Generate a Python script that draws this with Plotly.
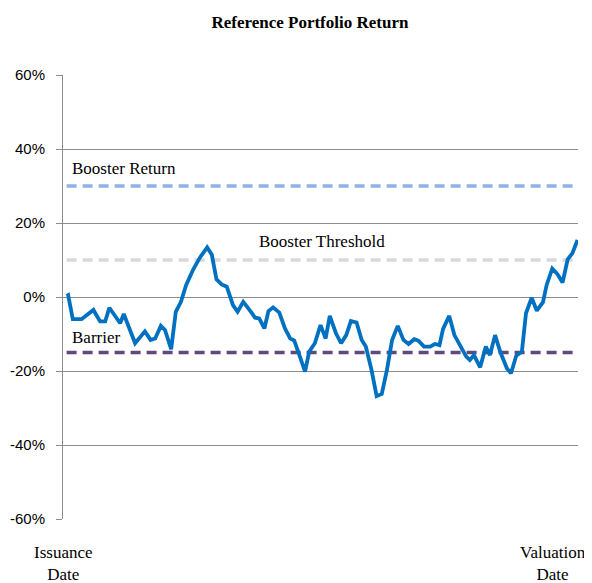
import plotly.graph_objects as go

# share of the term elapsed (0 = issuance, 100 = valuation) and portfolio return in %
term_pct = [0.7, 1.0, 1.9, 3.6, 5.9, 7.2, 8.2, 9.0, 11.1, 11.8, 14.0, 15.9, 17.0, 17.9, 19.0,
            19.8, 21.0, 21.9, 22.9, 23.9, 25.3, 26.6, 28.0, 28.9, 29.8, 30.8, 31.8, 33.0, 33.9,
            35.0, 36.5, 37.3, 38.1, 39.1, 39.9, 40.8, 42.0, 43.1, 44.1, 44.9, 46.0, 47.0, 47.8,
            48.9, 50.0, 51.0, 51.8, 53.0, 54.0, 55.0, 55.9, 57.0, 58.0, 58.8, 59.9, 60.9, 61.9,
            62.9, 63.9, 65.0, 66.1, 67.1, 68.2, 69.0, 70.1, 71.3, 72.2, 73.1, 73.8, 75.0, 76.0,
            77.1, 78.3, 79.0, 79.8, 81.0, 82.1, 82.9, 83.9, 84.9, 86.2, 87.0, 88.0, 89.1, 89.9,
            91.0, 92.0, 93.2, 93.9, 95.0, 96.0, 97.0, 98.0, 98.9, 99.9]
portfolio_return = [0.3, 0.5, -6.0, -6.0, -3.5, -6.6, -6.6, -2.9, -7.1, -4.6, -12.5, -9.3, -11.6,
                    -11.2, -7.8, -8.9, -14.1, -4.0, -1.3, 3.2, 7.5, 10.7, 13.4, 11.4, 4.8, 3.4, 2.8,
                    -2.2, -4.0, -1.3, -4.0, -5.6, -5.8, -8.5, -3.8, -2.8, -4.2, -8.5, -11.2, -11.8,
                    -16.1, -20.2, -14.8, -12.5, -7.6, -11.2, -5.1, -9.8, -12.5, -10.3, -6.5, -6.9,
                    -11.6, -13.4, -19.7, -26.8, -26.2, -19.7, -11.6, -7.8, -11.6, -12.7, -11.4,
                    -11.8, -13.4, -13.4, -12.7, -13.0, -8.6, -5.1, -10.3, -13.0, -16.1, -17.0,
                    -15.7, -19.0, -13.4, -15.7, -10.3, -14.8, -19.3, -20.6, -15.9, -14.8, -4.4,
                    -0.2, -3.7, -1.4, 3.2, 7.7, 6.2, 3.9, 10.2, 11.8, 15.4]

level_names = ["Booster Return", "Booster Threshold", "Barrier"]
level_values = [30, 10, -15]
level_colors = ["#8DB4E2", "#D9D9D9", "#604A7B"]

y_ticks = [-60, -40, -20, 0, 20, 40, 60]

serif = "Liberation Serif, Times New Roman, serif"
sans = "Liberation Sans, Arial, sans-serif"

fig = go.Figure()

# reference levels as dashed lines
for name, val, col in zip(level_names, level_values, level_colors):
    fig.add_trace(go.Scatter(
        x=[0.7, 100], y=[val, val], mode="lines", name=name,
        line=dict(color=col, width=3.5, dash="10px,6px"), hoverinfo="skip",
    ))

fig.add_trace(go.Scatter(
    x=term_pct, y=portfolio_return, mode="lines", name="Reference Portfolio",
    line=dict(color="#0070C0", width=3.8),
))

txt = dict(family=serif, size=17, color="#000")

# labels for the levels
fig.add_annotation(x=1.4, y=level_values[0], text=level_names[0], xanchor="left", yanchor="middle",
                   yshift=18, showarrow=False, font=txt)
fig.add_annotation(x=50.2, y=level_values[1], text=level_names[1], xanchor="center", yanchor="middle",
                   yshift=19, showarrow=False, font=txt)
fig.add_annotation(x=1.4, y=level_values[2], text=level_names[2], xanchor="left", yanchor="middle",
                   yshift=15, showarrow=False, font=txt)

# start / end labels under the axis
fig.add_annotation(x=0, y=-60, text="Issuance<br>Date", xanchor="center", yanchor="top",
                   yshift=-22, showarrow=False, font=txt)
fig.add_annotation(x=95.1, y=-60, text="Valuation<br>Date", xanchor="center", yanchor="top",
                   yshift=-22, showarrow=False, font=txt)

# page body adds an 8px offset, so the figure is drawn 8px smaller
fig.update_layout(
    width=584, height=575,
    margin=dict(l=55, r=14, t=67, b=64),
    paper_bgcolor="white", plot_bgcolor="white",
    showlegend=False,
    title=dict(text="<b>Reference Portfolio Return</b>", x=0.517, xanchor="center",
               y=0.976, yanchor="middle", font=dict(family=serif, size=17, color="#000")),
    xaxis=dict(range=[0, 100], showgrid=False, zeroline=False, showticklabels=False,
               showline=False, fixedrange=True, automargin=False),
    yaxis=dict(range=[-60, 60], tickvals=y_ticks, ticktext=[f"{v}%" for v in y_ticks],
               showgrid=True, gridcolor="#8C8C8C", gridwidth=1, zeroline=False,
               showline=True, linecolor="#8C8C8C", linewidth=1, automargin=False,
               ticks="outside", ticklen=6, tickcolor="#8C8C8C", ticklabelstandoff=8,
               tickfont=dict(family=sans, size=15, color="#000")),
)

fig.write_html("out.html")
